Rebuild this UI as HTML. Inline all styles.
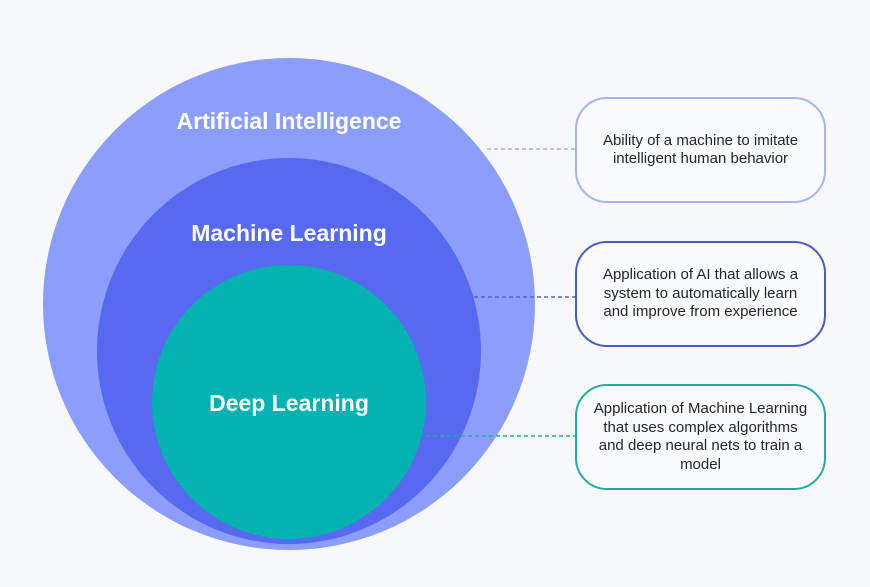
<!DOCTYPE html>
<html><head><meta charset="utf-8"><style>
html,body{margin:0;padding:0;background:#f7f8fa;}
body{width:870px;height:587px;position:relative;overflow:hidden;font-family:"Liberation Sans",sans-serif;}
.c{position:absolute;border-radius:50%;}
.t{position:absolute;color:#fff;font-weight:bold;font-size:23px;text-align:center;width:400px;left:89px;}
.b{position:absolute;left:575px;width:247px;height:102px;border:2px solid;border-radius:32px;background:#fafbfd;display:flex;align-items:center;justify-content:center;text-align:center;font-size:15px;line-height:18.5px;color:#222630;}
svg{position:absolute;left:0;top:0;}
</style></head><body>
<div class="c" style="left:43px;top:58px;width:492px;height:492px;background:#8d9dfb;"></div>
<div class="c" style="left:97px;top:158px;width:384px;height:386px;background:#5669ef;"></div>
<div class="c" style="left:152px;top:265px;width:274px;height:274px;background:#03b2b1;"></div>
<div class="t" style="top:108px;">Artificial Intelligence</div>
<div class="t" style="top:220px;">Machine Learning</div>
<div class="t" style="top:390px;">Deep Learning</div>
<svg width="870" height="587">
<line x1="487" y1="149" x2="575" y2="149" stroke="#a3aef3" stroke-width="1.6" stroke-dasharray="4 3"/>
<line x1="474" y1="297" x2="575" y2="297" stroke="#5665c8" stroke-width="1.6" stroke-dasharray="4 3"/>
<line x1="426" y1="436" x2="575" y2="436" stroke="#1faea0" stroke-width="1.6" stroke-dasharray="4 3"/>
</svg>
<div class="b" style="top:97px;border-color:#a8b3f5;">Ability of a machine to imitate<br>intelligent human behavior</div>
<div class="b" style="top:241px;border-color:#4a5bc8;">Application of AI that allows a<br>system to automatically learn<br>and improve from experience</div>
<div class="b" style="top:384px;border-color:#22ae9f;">Application of Machine Learning<br>that uses complex algorithms<br>and deep neural nets to train a<br>model</div>
</body></html>
